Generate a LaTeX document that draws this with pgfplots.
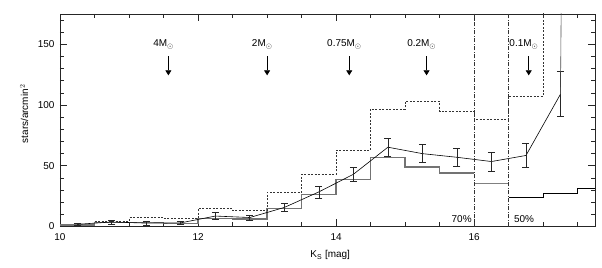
\documentclass[border=0pt]{standalone}
\usepackage{fontspec}
\setmainfont{Liberation Sans}
\usepackage{pgfplots}
\pgfplotsset{compat=1.18}
\usetikzlibrary{arrows.meta}
\pgfplotstableread{
x y e
10.25 1.8 1.0
10.75 3.7 1.5
11.25 2.8 1.5
11.75 3.0 1.5
12.25 8.6 2.7
12.75 7.4 2.1
13.25 15.7 3.4
13.75 28.5 5.0
14.25 43.0 6.0
14.75 65.3 7.7
15.25 60.0 7.5
15.75 57.0 7.5
16.25 53.5 7.8
16.75 58.5 10.0
17.25 109.0 18.5
}\corr
\pgfplotstableread{
x y
10.0 1.2
10.5 3.4
11.0 3.4
11.5 2.6
12.0 6.7
12.5 6.1
13.0 14.9
13.5 26.5
14.0 38.6
14.5 57.0
15.0 49.0
15.5 44.0
16.0 44.0
}\obs
\pgfplotstableread{
x y
10.5 4.5
11.0 7.2
11.5 6.4
12.0 15.0
12.5 13.3
13.0 28.0
13.5 43.0
14.0 63.0
14.5 96.7
15.0 103.0
15.5 94.8
16.0 88.5
16.5 107.6
17.0 250.0
17.5 250.0
}\upper
\begin{document}
\fontsize{10}{12}\selectfont
\begin{tikzpicture}
\path[use as bounding box] (-60bp,-41.5bp) rectangle (542bp,226.5bp);
\begin{axis}[
 scale only axis, width=535bp, height=212.5bp,
 at={(0,0)}, anchor=south west,
 xmin=10, xmax=17.75, ymin=0, ymax=175,
 xtick={10,12,14,16}, minor xtick={10.5,11,...,17.5},
 ytick={0,50,100,150}, minor ytick={10,20,...,170},
 tick align=inside, major tick length=7bp, minor tick length=4bp,
 tick style={black!85, line width=0.6pt},
 axis line style={black!85, line width=0.8pt},
 /pgf/number format/assume math mode=true,
 ticklabel style={font=\fontsize{10}{12}\selectfont},
 xticklabel style={yshift=-4bp},
 yticklabel style={xshift=-2bp},
 xlabel={K$_\mathrm{S}$ [mag]},
 xlabel style={at={(axis description cs:0.505,-0.134)}, anchor=center},
 ylabel={stars/arcmin$^2$},
 ylabel style={at={(axis description cs:-0.067,0.53)}, anchor=center},
 clip=true,
]
% observed histogram (gray, thick)
\addplot[const plot, draw=black!55, line width=1.4pt] table[x=x,y=y] {\obs};
% 16-16.5 bin thin gray
\addplot[const plot, draw=black!50, line width=0.6pt] coordinates {(16.0,35.3) (16.5,35.3)};
% fainter bins, black
\addplot[const plot, draw=black, line width=0.7pt] coordinates {(16.5,24.4) (17.0,27.2) (17.5,31.3) (17.75,31.3)};
% upper histogram (dashed)
\addplot[const plot, draw=black!80, line width=0.6pt, dash pattern=on 2bp off 1.5bp] table[x=x,y=y] {\upper};
% corrected LF with error bars
\addplot[black, line width=0.6pt, mark=none,
  error bars/.cd, y dir=both, y explicit,
  error bar style={black!85, line width=0.7pt},
  error mark options={rotate=90, mark size=3.5bp, black!85, line width=0.6pt}]
  table[x=x, y=y, y error=e] {\corr};
\addplot[black!70, line width=0.6pt] coordinates {(17.25,109) (17.27,250)};
% completeness limits
\draw[black!80, line width=0.5pt, dash pattern=on 4bp off 1.5bp on 1bp off 1.5bp] (axis cs:16,0) -- (axis cs:16,175);
\draw[black!80, line width=0.5pt, dash pattern=on 4bp off 1.5bp on 1bp off 1.5bp] (axis cs:16.5,0) -- (axis cs:16.5,175);
\node[anchor=east, inner sep=1bp] at (axis cs:15.98,6.5) {70\%};
\node[anchor=west, inner sep=1bp] at (axis cs:16.56,6.5) {50\%};
% mass labels and arrows
\foreach \xx/\lab in {11.57/4, 13.0/2, 14.19/0.75, 15.31/0.2, 16.79/0.1} {
  \edef\tmp{\noexpand\draw[black, line width=0.7pt, -{Triangle[width=6bp,length=5bp]}] (axis cs:\xx,140) -- (axis cs:\xx,124.5);}\tmp
  \edef\tmp{\noexpand\node at (axis cs:\xx-0.07,150) {\lab M$_\noexpand\odot$};}\tmp
}
\end{axis}
\end{tikzpicture}
\end{document}
